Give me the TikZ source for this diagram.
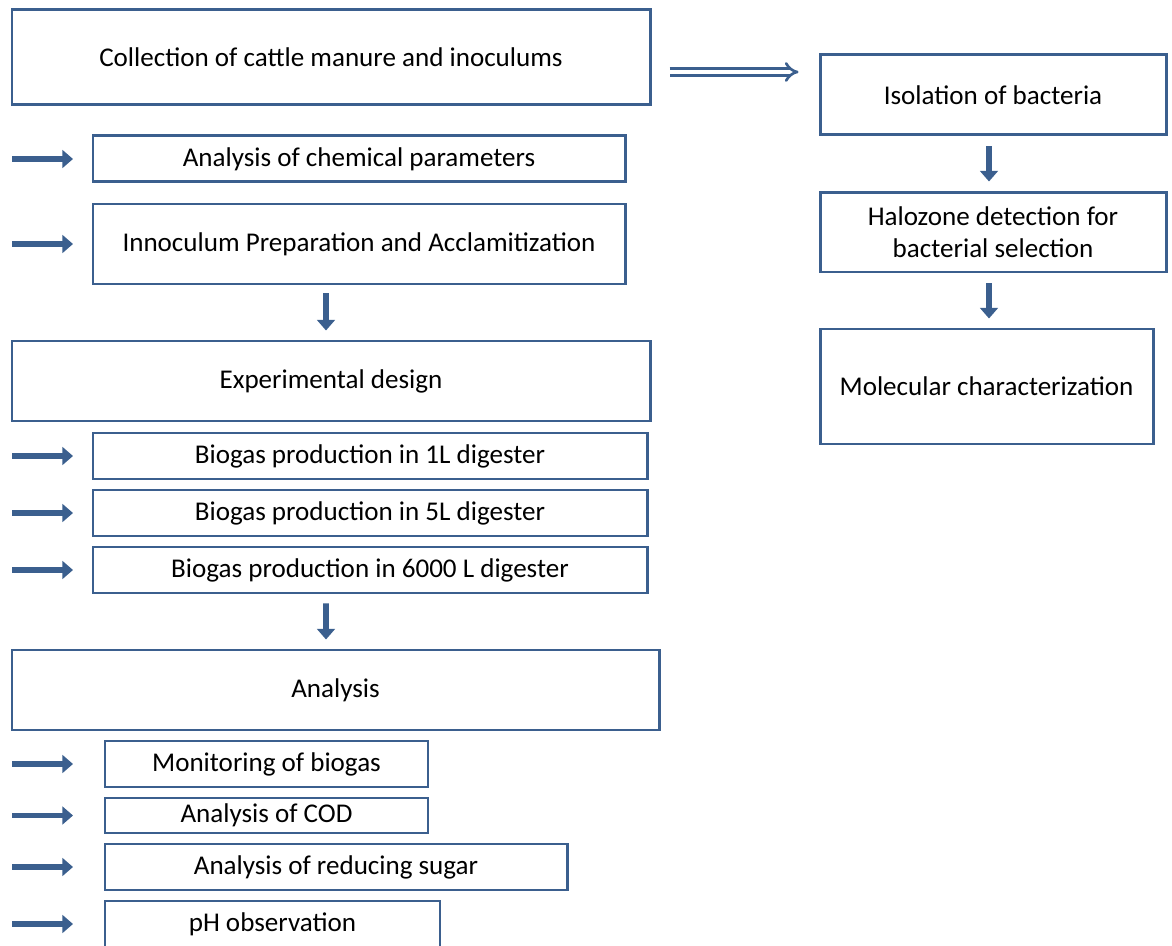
\documentclass[tikz,border=0pt]{standalone}
\usepackage{fontspec}
\setmainfont{Carlito}
\usetikzlibrary{arrows.meta, positioning}
\definecolor{flowblue}{RGB}{59,95,142}

\begin{document}
\begin{tikzpicture}[>=Stealth,
    box/.style={draw=flowblue, line width=1.7pt, align=center, inner sep=0pt, font=\fontsize{15.4}{18}\selectfont},
    flow/.style={draw=flowblue, line width=3.4pt, -{Triangle[width=10pt, length=6pt]}},
    feed/.style={draw=flowblue, line width=3.4pt, -{Triangle[width=10pt, length=6pt]}},
    link/.style={draw=flowblue, line width=1.5pt, double=white, double distance=2.2pt, -{Implies[length=7pt, width=11pt]}}]
      \useasboundingbox (0,0) rectangle (23.44,-18.92);
      % left column
      \node[box, minimum width=12.76cm, minimum height=1.9cm] (collect) at (6.62,-1.15) {Collection of cattle manure and inoculums};
      \node[box, minimum width=10.64cm, minimum height=0.92cm] (chem) at (7.18,-3.18) {Analysis of chemical parameters};
      \node[box, minimum width=10.64cm, minimum height=1.6cm] (inoc) at (7.18,-4.88) {Innoculum Preparation and Acclamitization};
      \node[box, minimum width=12.76cm, minimum height=1.6cm] (design) at (6.62,-7.62) {Experimental design};
      \node[box, minimum width=11.08cm, minimum height=0.92cm] (bio1) at (7.40,-9.12) {Biogas production in 1L digester};
      \node[box, minimum width=11.08cm, minimum height=0.92cm] (bio5) at (7.40,-10.26) {Biogas production in 5L digester};
      \node[box, minimum width=11.08cm, minimum height=0.92cm] (bio6000) at (7.40,-11.40) {Biogas production in 6000 L digester};
      \node[box, minimum width=12.94cm, minimum height=1.6cm] (analysis) at (6.71,-13.80) {Analysis};
      \node[box, minimum width=6.46cm, minimum height=0.92cm] (monitor) at (5.33,-15.28) {Monitoring of biogas};
      \node[box, minimum width=6.46cm, minimum height=0.70cm] (cod) at (5.33,-16.31) {Analysis of COD};
      \node[box, minimum width=9.24cm, minimum height=0.92cm] (sugar) at (6.72,-17.34) {Analysis of reducing sugar};
      \node[box, minimum width=6.70cm, minimum height=0.92cm] (ph) at (5.45,-18.48) {pH observation};
      % right column
      \node[box, minimum width=6.92cm, minimum height=1.6cm] (isol) at (19.86,-1.90) {Isolation of bacteria};
      \node[box, minimum width=6.92cm, minimum height=1.58cm] (halo) at (19.86,-4.65) {Halozone detection for\\bacterial selection};
      \node[box, minimum width=6.66cm, minimum height=2.3cm] (molec) at (19.73,-7.73) {Molecular characterization};

      % side arrows
      \coordinate (lm) at (0.24,0);
      \foreach \n in {chem, inoc, bio1, bio5, bio6000, monitor, cod, sugar, ph}
        \draw[feed] (lm |- \n.west) -- ++(1.22,0);

      % downward steps
      \draw[flow, shorten <=0.16cm, shorten >=0.18cm] ([xshift=-0.66cm]inoc.south) -- ([xshift=-0.10cm]design.north);
      \draw[flow, shorten <=0.18cm, shorten >=0.18cm] ([xshift=-0.88cm]bio6000.south) -- ([xshift=-0.19cm]analysis.north);
      \draw[flow, shorten <=0.2cm, shorten >=0.2cm] ([xshift=-0.08cm]isol.south) -- ([xshift=-0.08cm]isol.south |- halo.north);
      \draw[flow, shorten <=0.2cm, shorten >=0.18cm] ([xshift=-0.08cm]halo.south) -- ([xshift=-0.08cm]halo.south |- molec.north);

      % to the bacteria branch
      \draw[link, shorten <=0.36cm, shorten >=0.4cm] ([yshift=-0.29cm]collect.east) -- ([yshift=-0.29cm]collect.east -| isol.west);
\end{tikzpicture}
\end{document}
